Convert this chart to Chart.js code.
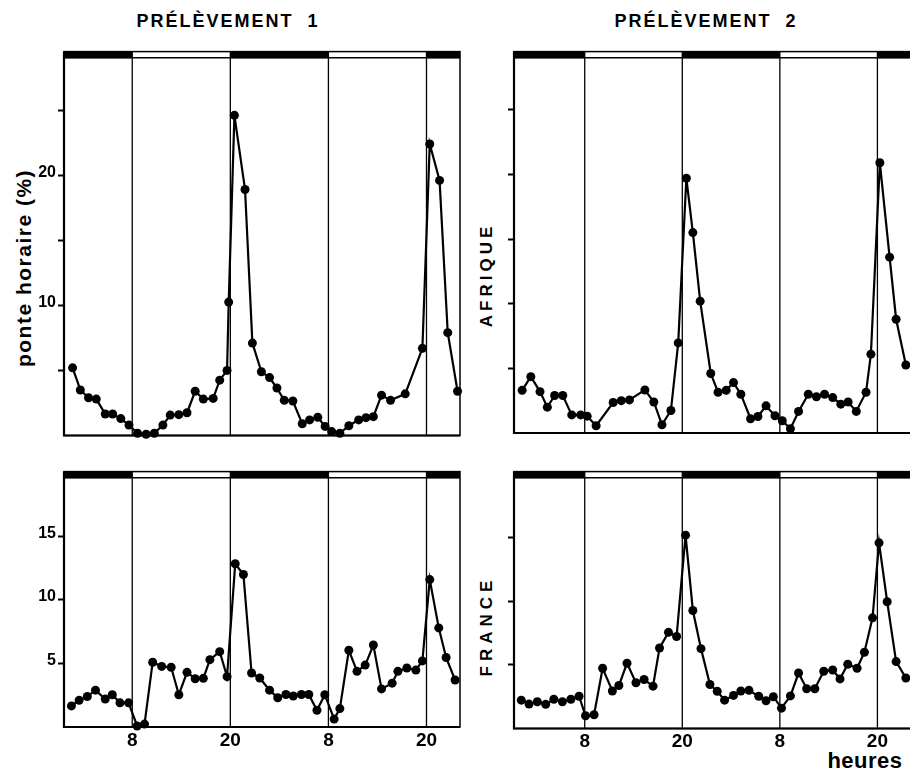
<!DOCTYPE html>
<html>
<head>
<meta charset="utf-8">
<script src="https://cdn.jsdelivr.net/npm/chart.js@4.4.1/dist/chart.umd.min.js"></script>
<style>
  html, body { margin: 0; padding: 0; background: #fff; }
  body { width: 910px; height: 768px; position: relative; overflow: hidden; font-family: 'Liberation Sans', Arial, sans-serif; }
  canvas { position: absolute; }
  .txt { position: absolute; font-weight: bold; color: #000; white-space: pre; }
  .rot { transform: translate(-50%, -50%) rotate(-90deg); }
</style>
</head>
<body>
<div class="txt" style="left:118px; top:11px; width:220px; text-align:center; font-size:18px; letter-spacing:2px;">PRÉLÈVEMENT  1</div>
<div class="txt" style="left:596px; top:11px; width:220px; text-align:center; font-size:18px; letter-spacing:2px;">PRÉLÈVEMENT  2</div>
<div class="txt rot" style="left:24px; top:268px; font-size:21px; letter-spacing:1.5px;">ponte horaire (%)</div>
<div class="txt rot" style="left:487px; top:275px; font-size:17px; letter-spacing:4px;">AFRIQUE</div>
<div class="txt rot" style="left:487px; top:626px; font-size:17px; letter-spacing:5px;">FRANCE</div>
<div class="txt" style="left:820px; top:750px; width:90px; text-align:center; font-size:22px; line-height:22px; letter-spacing:0.5px;">heures</div>

<canvas id="tl" width="470" height="420" style="left:0px; top:40px;"></canvas>
<canvas id="tr" width="450" height="420" style="left:470px; top:40px;"></canvas>
<canvas id="bl" width="470" height="308" style="left:0px; top:460px;"></canvas>
<canvas id="br" width="450" height="308" style="left:470px; top:460px;"></canvas>

<script>
// ---- Photoperiod (hours) ----
const lightsOn = [8, 32];
const lightsOff = [20, 44];

// ---- X tick labels ----
const xTickHours = [8, 20, 32, 44];
const xTickLabels = ['8', '20', '8', '20'];

// ---- Y ticks ----
const yTicksTop = [5, 10, 15, 20, 25];
const yLabeledTop = [10, 20];
const yTicksBottom = [5, 10, 15];
const yLabeledBottom = [5, 10, 15];

// ---- AFRIQUE, prélèvement 1 ----
const afrique1Hours = [0.7,1.65,2.65,3.6,4.7,5.6,6.6,7.6,8.65,9.7,10.7,11.75,12.65,13.7,14.7,15.7,16.7,17.9,18.7,19.6,19.8,20.5,21.8,22.7,23.8,24.8,25.7,26.6,27.65,28.8,29.7,30.7,31.6,32.4,33.4,34.5,35.7,36.6,37.5,38.5,39.6,41.4,43.5,44.4,45.6,46.6,47.8];
const afrique1Values = [5.2,3.5,2.9,2.8,1.65,1.65,1.3,0.8,0.17,0.1,0.17,0.8,1.57,1.6,1.75,3.4,2.8,2.85,4.25,5.0,10.25,24.6,18.9,7.1,4.9,4.45,3.65,2.7,2.65,0.9,1.2,1.4,0.7,0.3,0.17,0.75,1.2,1.37,1.45,3.1,2.7,3.2,6.7,22.4,19.6,7.9,3.4];

// ---- AFRIQUE, prélèvement 2 ----
const afrique2Hours = [0.3,1.37,2.5,3.4,4.3,5.3,6.4,7.5,8.3,9.4,11.5,12.5,13.5,15.4,16.5,17.5,18.6,19.5,20.5,21.3,22.2,23.5,24.4,25.4,26.3,27.2,28.4,29.3,30.3,31.4,32.3,33.3,34.3,35.5,36.5,37.5,38.5,39.5,40.4,41.4,42.6,43.2,44.3,45.5,46.3,47.5];
const afrique2Values = [3.3,4.36,3.2,2.0,2.9,2.9,1.4,1.4,1.3,0.56,2.36,2.5,2.56,3.33,2.4,0.64,1.74,6.97,19.7,15.5,10.2,4.6,3.15,3.3,3.9,3.0,1.1,1.28,2.1,1.33,0.95,0.33,1.67,3.0,2.8,3.0,2.74,2.23,2.4,1.67,3.15,6.1,20.9,13.6,8.8,5.26];

// ---- FRANCE, prélèvement 1 ----
const france1Hours = [0.56,1.5,2.5,3.5,4.7,5.56,6.5,7.55,8.6,9.5,10.5,11.6,12.76,13.7,14.7,15.7,16.7,17.5,18.7,19.6,20.6,21.6,22.6,23.6,24.8,25.8,26.8,27.7,28.7,29.6,30.6,31.56,32.7,33.4,34.5,35.5,36.5,37.5,38.5,39.8,40.5,41.6,42.7,43.5,44.4,45.5,46.4,47.5];
const france1Values = [1.66,2.1,2.4,2.9,2.2,2.54,1.9,1.9,0.08,0.23,5.1,4.77,4.7,2.54,4.3,3.8,3.83,5.3,5.93,3.96,12.85,12.0,4.25,3.86,2.9,2.3,2.56,2.44,2.56,2.56,1.32,2.54,0.62,1.45,6.04,4.38,4.87,6.45,3.0,3.45,4.38,4.64,4.48,5.2,11.6,7.8,5.47,3.7];

// ---- FRANCE, prélèvement 2 ----
const france2Hours = [0.2,1.15,2.17,3.2,4.2,5.25,6.3,7.3,8.1,9.15,10.2,11.4,12.2,13.2,14.3,15.3,16.4,17.2,18.3,19.3,20.4,21.3,22.3,23.4,24.3,25.2,26.3,27.2,28.2,29.4,30.3,31.2,32.2,33.3,34.3,35.3,36.3,37.4,38.5,39.4,40.35,41.5,42.4,43.4,44.2,45.2,46.3,47.5];
const france2Values = [2.23,1.92,2.1,1.9,2.3,2.1,2.3,2.54,1.0,1.08,4.74,2.95,3.38,5.13,3.6,3.85,3.33,6.33,7.56,7.23,15.2,9.28,6.28,3.46,2.92,2.23,2.6,2.95,3.0,2.54,2.18,2.5,1.6,2.56,4.36,3.13,3.13,4.5,4.6,3.9,5.05,4.74,6.0,8.7,14.6,9.97,5.26,3.97];

// Frame, photoperiod band and light-change lines
const framePlugin = {
  id: 'frame',
  beforeDatasetsDraw(chart) {
    const { ctx, chartArea: a, scales: { x } } = chart;
    const band = 7;
    const px = h => x.getPixelForValue(Math.min(Math.max(h, x.min), x.max));
    ctx.save();
    ctx.strokeStyle = '#000';
    ctx.fillStyle = '#000';
    const nights = [[x.min, lightsOn[0]], [lightsOff[0], lightsOn[1]], [lightsOff[1], x.max]];
    nights.forEach(([s, e]) => ctx.fillRect(px(s), a.top, px(e) - px(s), band));
    ctx.lineWidth = 1.5;
    lightsOn.forEach((s, i) => {
      const e = lightsOff[i];
      ctx.beginPath();
      ctx.moveTo(px(s), a.top + band - 0.75);
      ctx.lineTo(px(e), a.top + band - 0.75);
      ctx.stroke();
    });
    ctx.lineWidth = 1.3;
    [...lightsOn, ...lightsOff].forEach(h => {
      const p = px(h);
      ctx.beginPath();
      ctx.moveTo(p, a.top);
      ctx.lineTo(p, a.bottom);
      ctx.stroke();
    });
    ctx.lineWidth = 1.5;
    ctx.strokeRect(a.left, a.top, a.right - a.left, a.bottom - a.top);
    ctx.lineWidth = 2.2;
    ctx.beginPath();
    ctx.moveTo(a.left, a.top);
    ctx.lineTo(a.left, a.bottom);
    ctx.lineTo(a.right, a.bottom);
    ctx.stroke();
    ctx.restore();
  }
};

function makePanel(id, hours, values, cfg) {
  new Chart(document.getElementById(id), {
    type: 'line',
    data: {
      datasets: [{
        data: hours.map((h, i) => ({ x: h, y: values[i] })),
        borderColor: '#000',
        backgroundColor: '#000',
        borderWidth: 2.2,
        pointRadius: 4.5,
        pointBackgroundColor: '#000',
        pointBorderWidth: 0,
        tension: 0,
        clip: false
      }]
    },
    options: {
      responsive: false,
      animation: false,
      events: [],
      layout: { autoPadding: false, padding: cfg.padding },
      plugins: { legend: { display: false }, tooltip: { enabled: false } },
      scales: {
        x: {
          type: 'linear',
          min: cfg.xMin,
          max: cfg.xMax,
          display: cfg.showX,
          afterBuildTicks: s => { s.ticks = xTickHours.map(v => ({ value: v })); },
          afterFit: s => { s.height = cfg.xHeight; },
          grid: { display: false, drawTicks: false },
          border: { display: false },
          ticks: {
            autoSkip: false,
            maxRotation: 0,
            padding: 2,
            color: '#000',
            font: { family: "'Liberation Sans Narrow', 'Liberation Sans', Arial, sans-serif", weight: 'bold', size: 19 },
            callback: (v, i) => xTickLabels[i]
          }
        },
        y: {
          type: 'linear',
          min: 0,
          max: cfg.yMax,
          afterBuildTicks: s => { s.ticks = cfg.yTicks.map(v => ({ value: v })); },
          afterFit: s => { s.width = cfg.yWidth; },
          grid: { display: true, drawOnChartArea: false, drawTicks: true, tickLength: 6, tickWidth: 2, color: '#000' },
          border: { display: false },
          ticks: {
            autoSkip: false,
            padding: 2,
            labelOffset: -3,
            color: '#000',
            font: { family: "'Liberation Sans', Arial, sans-serif", weight: 'bold', size: 16 },
            callback: v => cfg.yLabeled.includes(v) ? String(v) : ''
          }
        }
      }
    },
    plugins: [framePlugin]
  });
}

makePanel('tl', afrique1Hours, afrique1Values, {
  xMin: -0.35, xMax: 48.1, showX: false, xHeight: 0,
  yMax: 29.5, yTicks: yTicksTop, yLabeled: yLabeledTop, yWidth: 64,
  padding: { top: 10, right: 10, bottom: 24.5, left: 0 }
});
makePanel('tr', afrique2Hours, afrique2Values, {
  xMin: -0.7, xMax: 48.5, showX: false, xHeight: 0,
  yMax: 29.5, yTicks: yTicksTop, yLabeled: [], yWidth: 44,
  padding: { top: 8, right: 6, bottom: 27, left: 0 }
});
makePanel('bl', france1Hours, france1Values, {
  xMin: -0.35, xMax: 48.1, showX: true, xHeight: 41,
  yMax: 20.1, yTicks: yTicksBottom, yLabeled: yLabeledBottom, yWidth: 64,
  padding: { top: 8, right: 10, bottom: 0, left: 0 }
});
makePanel('br', france2Hours, france2Values, {
  xMin: -0.7, xMax: 48.5, showX: true, xHeight: 39.5,
  yMax: 20.2, yTicks: yTicksBottom, yLabeled: [], yWidth: 44,
  padding: { top: 6, right: 6, bottom: 0, left: 0 }
});
</script>
</body>
</html>
